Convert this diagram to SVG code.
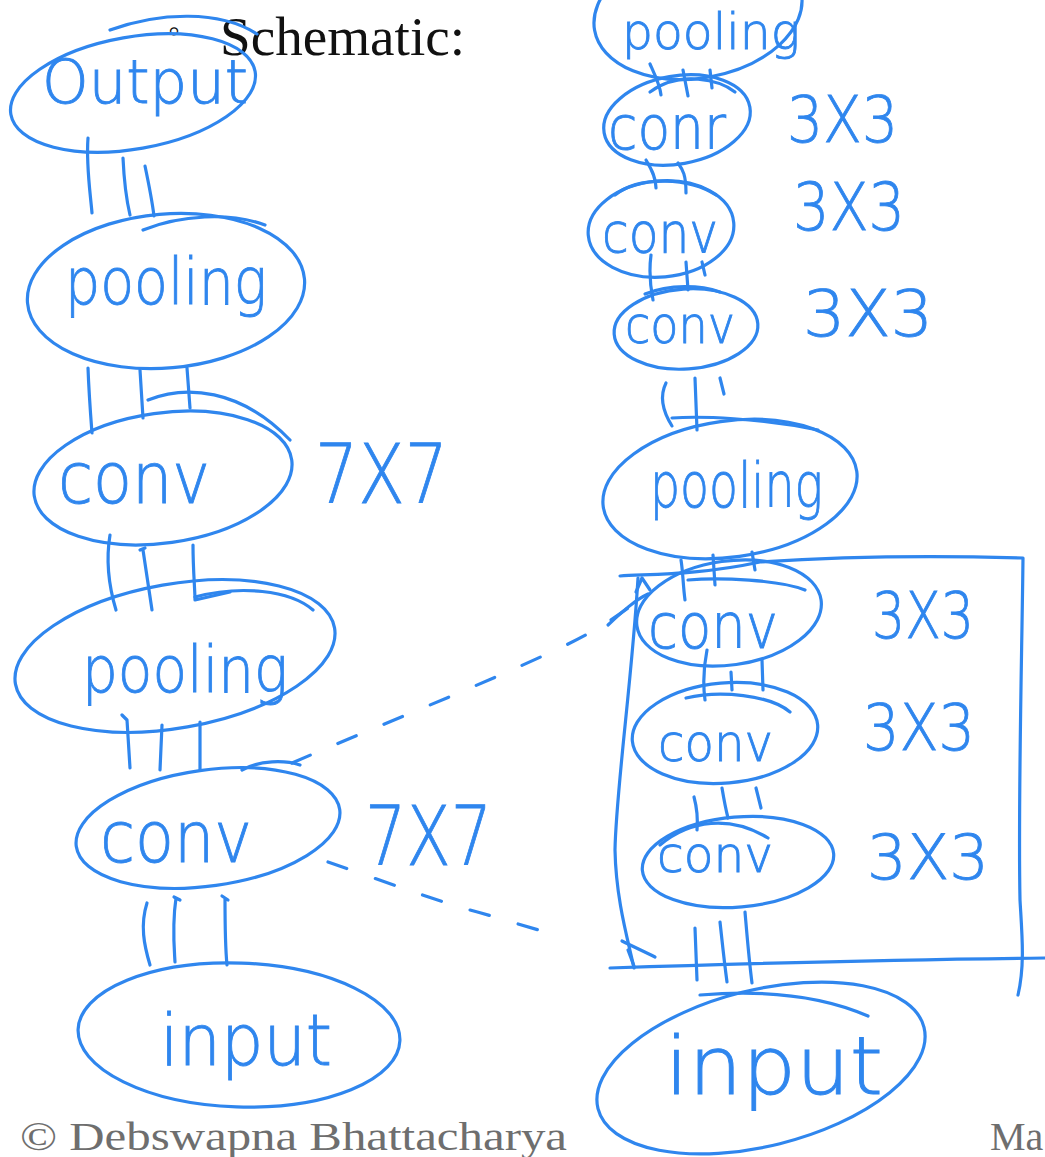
<svg xmlns="http://www.w3.org/2000/svg" width="1045" height="1157" viewBox="0 0 1045 1157">
  <style>
    .ink { fill: none; stroke: #2f86ee; stroke-width: 3.2; stroke-linecap: round; stroke-linejoin: round; }
    .dash { fill: none; stroke: #2f86ee; stroke-width: 3.2; stroke-linecap: round; stroke-dasharray: 20 30; }
    .hand { fill: #2f86ee; stroke: #2f86ee; stroke-width: 0.9; font-family: "DejaVu Sans", "Liberation Sans", sans-serif; font-weight: 200; }
    .slide { fill: #111; font-family: "Liberation Serif", "DejaVu Serif", serif; }
    .foot { fill: #6e6e6e; font-family: "Liberation Serif", "DejaVu Serif", serif; }
  </style>
  <rect width="1045" height="1157" fill="#fff"/>

  <!-- slide text -->
  <text class="slide" x="168" y="42" font-size="34">◦</text>
  <text class="slide" x="220" y="55" font-size="54" textLength="245" lengthAdjust="spacingAndGlyphs">Schematic:</text>

  <!-- connectors: triple strokes between stacked layers -->
  <g id="edges">
    <!-- left stack -->
    <path class="ink" d="M88,138 C86,165 90,190 92,213 M123,158 C124,180 126,198 130,215 M145,166 C149,185 152,200 154,216"/>
    <path class="ink" d="M88,368 C89,395 91,420 92,433 M140,370 L143,418 M187,368 L190,408"/>
    <path class="ink" d="M110,535 C105,565 110,590 116,610 M140,550 L145,548 M143,550 L152,610 M193,545 C193,570 195,590 195,600 L230,592"/>
    <path class="ink" d="M122,715 L127,720 L130,768 M162,725 L160,770 M200,722 L200,770"/>
    <path class="ink" d="M147,903 C140,925 144,945 150,965 M174,897 L180,900 M176,898 C172,925 174,945 175,962 M222,896 L228,900 M225,898 C225,925 225,945 227,965"/>
    <!-- right stack -->
    <path class="ink" d="M650,64 C655,75 660,85 661,95 M683,70 L688,96 M710,70 L712,88"/>
    <path class="ink" d="M646,160 C652,170 656,178 656,188 M678,163 C683,170 686,175 686,193"/>
    <path class="ink" d="M651,255 C649,270 650,285 653,300 M686,262 L688,290 M702,262 L705,275"/>
    <path class="ink" d="M666,383 C660,395 662,410 672,426 M695,378 L697,430 M720,378 L724,394"/>
    <path class="ink" d="M681,560 C683,572 683,585 685,600 M713,555 L715,585 M752,552 L755,570"/>
    <path class="ink" d="M707,650 C704,665 703,685 705,700 M731,672 L732,690 M762,660 L763,690"/>
    <path class="ink" d="M694,797 C697,808 698,818 697,830 M722,788 C724,800 726,810 728,818 M756,788 L761,808"/>
    <path class="ink" d="M695,928 L697,980 M720,922 C722,940 724,960 727,982 M745,912 C747,935 749,960 752,983"/>
    <!-- dashed projections from the 7x7 conv to the stacked 3x3 block -->
    <path class="dash" d="M292,763 C380,725 470,690 560,648 C585,636 605,625 628,608"/>
    <path class="dash" d="M328,862 C380,880 440,902 470,910 C500,918 530,928 560,936"/>
    <!-- block outline of the three 3x3 convolutions -->
    <path class="ink" d="M620,576 C650,574 700,575 760,562 C850,556 950,556 1023,558 C1022,650 1018,800 1020,900 C1022,935 1025,965 1018,995"/>
    <path class="ink" d="M638,578 C632,680 616,790 615,850 C616,900 628,940 634,968"/>
    <path class="ink" d="M610,968 C700,965 850,960 1045,958"/>
    <path class="ink" d="M608,625 C622,612 635,600 648,594 M636,592 L642,578 L650,590"/>
    <path class="ink" d="M622,941 C632,946 645,952 655,957 M628,950 L634,966"/>
  </g>

  <!-- left stack -->
  <g id="n-output">
    <ellipse class="ink" cx="133" cy="93" rx="124" ry="56" transform="rotate(-10 133 93)"/>
    <path class="ink" d="M110,30 C160,12 220,10 257,34"/>
    <text class="hand" x="42" y="103" font-size="60" textLength="206" lengthAdjust="spacingAndGlyphs">Output</text>
  </g>
  <g id="n-pool1">
    <ellipse class="ink" cx="166" cy="291" rx="139" ry="77" transform="rotate(-5 166 291)"/>
    <path class="ink" d="M143,230 C180,215 230,212 265,225"/>
    <text class="hand" x="65" y="304" font-size="64" textLength="202" lengthAdjust="spacingAndGlyphs">pooling</text>
  </g>
  <g id="n-conv7a">
    <ellipse class="ink" cx="163" cy="478" rx="130" ry="65" transform="rotate(-8 163 478)"/>
    <path class="ink" d="M148,400 C185,385 240,388 290,440"/>
    <text class="hand" x="58" y="503" font-size="72" textLength="152" lengthAdjust="spacingAndGlyphs">conv</text>
    <text class="hand" x="315" y="503" font-size="82" textLength="133" lengthAdjust="spacingAndGlyphs">7X7</text>
  </g>
  <g id="n-pool2">
    <ellipse class="ink" cx="175" cy="656" rx="162" ry="72" transform="rotate(-10 175 656)"/>
    <path class="ink" d="M195,597 C240,585 290,590 313,610"/>
    <text class="hand" x="82" y="692" font-size="64" textLength="206" lengthAdjust="spacingAndGlyphs">pooling</text>
  </g>
  <g id="n-conv7b">
    <ellipse class="ink" cx="208" cy="828" rx="133" ry="58" transform="rotate(-8 208 828)"/>
    <path class="ink" d="M242,770 C260,760 285,760 300,765"/>
    <text class="hand" x="100" y="862" font-size="72" textLength="152" lengthAdjust="spacingAndGlyphs">conv</text>
    <text class="hand" x="365" y="865" font-size="82" textLength="127" lengthAdjust="spacingAndGlyphs">7X7</text>
  </g>
  <g id="n-input1">
    <ellipse class="ink" cx="239" cy="1035" rx="161" ry="72" transform="rotate(2 239 1035)"/>
    <text class="hand" x="160" y="1065" font-size="72" textLength="172" lengthAdjust="spacingAndGlyphs">input</text>
  </g>

  <!-- right stack -->
  <g id="n-pool3">
    <ellipse class="ink" cx="698" cy="12" rx="105" ry="66" transform="rotate(-10 698 12)"/>
    <text class="hand" x="622" y="49" font-size="50" textLength="178" lengthAdjust="spacingAndGlyphs">pooling</text>
  </g>
  <g id="n-conv3a">
    <ellipse class="ink" cx="677" cy="120" rx="74" ry="44" transform="rotate(-10 677 120)"/>
    <path class="ink" d="M650,92 C680,70 720,80 735,92"/>
    <text class="hand" x="608" y="149" font-size="60" textLength="118" lengthAdjust="spacingAndGlyphs">conr</text>
    <text class="hand" x="787" y="142" font-size="64" textLength="111" lengthAdjust="spacingAndGlyphs">3X3</text>
  </g>
  <g id="n-conv3b">
    <ellipse class="ink" cx="661" cy="229" rx="73" ry="48" transform="rotate(-5 661 229)"/>
    <path class="ink" d="M615,195 C640,175 690,178 716,195"/>
    <text class="hand" x="602" y="252" font-size="56" textLength="116" lengthAdjust="spacingAndGlyphs">conv</text>
    <text class="hand" x="793" y="230" font-size="66" textLength="112" lengthAdjust="spacingAndGlyphs">3X3</text>
  </g>
  <g id="n-conv3c">
    <ellipse class="ink" cx="686" cy="329" rx="72" ry="40" transform="rotate(-4 686 329)"/>
    <path class="ink" d="M645,294 C670,284 700,285 720,292"/>
    <text class="hand" x="625" y="343" font-size="52" textLength="110" lengthAdjust="spacingAndGlyphs">conv</text>
    <text class="hand" x="803" y="336" font-size="64" textLength="130" lengthAdjust="spacingAndGlyphs">3X3</text>
  </g>
  <g id="n-pool4">
    <ellipse class="ink" cx="730" cy="489" rx="128" ry="68" transform="rotate(-8 730 489)"/>
    <path class="ink" d="M672,418 C700,416 760,418 818,430"/>
    <text class="hand" x="650" y="507" font-size="62" textLength="173" lengthAdjust="spacingAndGlyphs">pooling</text>
  </g>
  <g id="n-conv3d">
    <ellipse class="ink" cx="729" cy="613" rx="93" ry="52" transform="rotate(-8 729 613)"/>
    <path class="ink" d="M688,580 C720,577 780,580 805,590"/>
    <text class="hand" x="648" y="648" font-size="62" textLength="130" lengthAdjust="spacingAndGlyphs">conv</text>
    <text class="hand" x="872" y="638" font-size="64" textLength="102" lengthAdjust="spacingAndGlyphs">3X3</text>
  </g>
  <g id="n-conv3e">
    <ellipse class="ink" cx="725" cy="733" rx="93" ry="50" transform="rotate(-5 725 733)"/>
    <path class="ink" d="M686,698 C720,690 770,695 790,712"/>
    <text class="hand" x="658" y="761" font-size="52" textLength="115" lengthAdjust="spacingAndGlyphs">conv</text>
    <text class="hand" x="863" y="750" font-size="64" textLength="112" lengthAdjust="spacingAndGlyphs">3X3</text>
  </g>
  <g id="n-conv3f">
    <ellipse class="ink" cx="738" cy="862" rx="96" ry="45" transform="rotate(-5 738 862)"/>
    <path class="ink" d="M660,845 C690,820 730,815 768,838"/>
    <text class="hand" x="657" y="872" font-size="50" textLength="116" lengthAdjust="spacingAndGlyphs">conv</text>
    <text class="hand" x="867" y="879" font-size="62" textLength="122" lengthAdjust="spacingAndGlyphs">3X3</text>
  </g>
  <g id="n-input2">
    <ellipse class="ink" cx="761" cy="1068" rx="168" ry="78" transform="rotate(-14 761 1068)"/>
    <path class="ink" d="M700,995 C760,990 820,995 868,1016"/>
    <text class="hand" x="665" y="1094" font-size="80" textLength="218" lengthAdjust="spacingAndGlyphs">input</text>
  </g>

  <!-- footer -->
  <text class="foot" x="20" y="1150" font-size="40" textLength="547" lengthAdjust="spacingAndGlyphs">© Debswapna Bhattacharya</text>
  <text class="foot" x="990" y="1150" font-size="40">Ma</text>
</svg>
